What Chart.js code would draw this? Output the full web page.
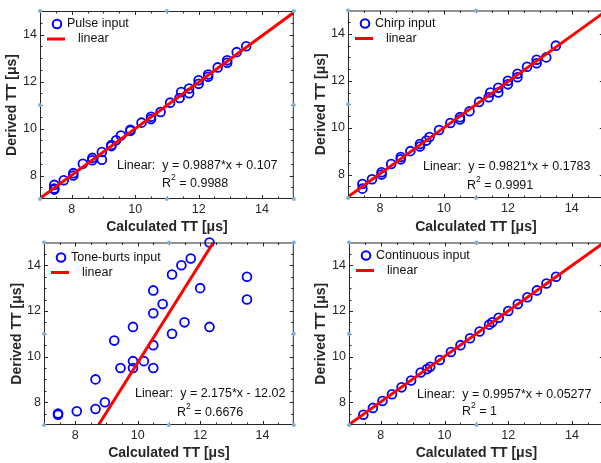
<!DOCTYPE html>
<html>
<head>
<meta charset="utf-8">
<style>
  html, body { margin: 0; padding: 0; background: #fff; }
  body { position: relative; width: 601px; height: 463px; overflow: hidden; }
  .panel { position: absolute; }
</style>
</head>
<body>
<div class="panel" style="left:0px;top:0px"><canvas id="chartPulse" width="300" height="240"></canvas></div>
<div class="panel" style="left:300px;top:0px"><canvas id="chartChirp" width="310" height="240"></canvas></div>
<div class="panel" style="left:0px;top:232px"><canvas id="chartTone" width="300" height="231"></canvas></div>
<div class="panel" style="left:300px;top:232px"><canvas id="chartCont" width="310" height="231"></canvas></div>

<script src="https://cdn.jsdelivr.net/npm/chart.js/dist/chart.umd.min.js"></script>
<script>
// axis setup shared by all four panels
const axisMin = 7, axisMax = 15;
const tickValues = [8, 10, 12, 14];
const minorStep = 0.5;

// pulse input
const pulseX = [7.45, 7.45, 7.45, 7.75, 8.05, 8.05, 8.35, 8.65, 8.65, 8.95, 8.95, 9.25, 9.25, 9.4, 9.55, 9.85, 9.85, 10.2, 10.5, 10.5, 10.8, 11.1, 11.4, 11.45, 11.7, 11.7, 12.0, 12.0, 12.3, 12.3, 12.6, 12.9, 12.9, 13.2, 13.5];
const pulseY = [7.6, 7.45, 7.4, 7.8, 8.1, 8.0, 8.5, 8.75, 8.65, 9.0, 8.67, 9.3, 9.25, 9.5, 9.7, 9.95, 9.9, 10.25, 10.5, 10.4, 10.7, 11.1, 11.3, 11.55, 11.7, 11.5, 12.05, 11.9, 12.3, 12.2, 12.6, 12.9, 12.8, 13.25, 13.5];
const pulseFitX = [7, 15];
const pulseFitY = [7.028, 14.938];

// chirp input
const chirpX = [7.45, 7.45, 7.75, 8.05, 8.05, 8.35, 8.65, 8.65, 8.95, 9.25, 9.25, 9.45, 9.55, 9.85, 10.2, 10.5, 10.5, 10.8, 11.1, 11.4, 11.45, 11.7, 11.7, 12.0, 12.0, 12.3, 12.3, 12.6, 12.9, 12.9, 13.2, 13.5];
const chirpY = [7.6, 7.4, 7.8, 8.1, 8.0, 8.45, 8.75, 8.65, 9.0, 9.3, 9.2, 9.45, 9.6, 9.9, 10.2, 10.45, 10.35, 10.7, 11.1, 11.3, 11.5, 11.7, 11.5, 12.0, 11.85, 12.3, 12.15, 12.6, 12.9, 12.75, 13.0, 13.5];
const chirpFitX = [7, 15];
const chirpFitY = [7.053, 14.910];

// tone-burst input
const toneX = [7.45, 7.45, 8.05, 8.65, 8.65, 8.95, 9.25, 9.45, 9.85, 9.85, 9.85, 10.2, 10.5, 10.5, 10.5, 10.5, 10.8, 11.1, 11.1, 11.4, 11.5, 11.7, 12.0, 12.3, 12.3, 13.5, 13.5];
const toneY = [7.5, 7.45, 7.6, 7.7, 9.0, 8.0, 10.7, 9.5, 11.3, 9.8, 9.5, 9.8, 12.9, 11.9, 10.5, 9.5, 12.3, 13.6, 11.0, 14.0, 11.5, 14.3, 13.0, 15.0, 11.3, 13.5, 12.5];
const toneFitX = [8.745, 12.423];
const toneFitY = [7, 15];

// continuous input
const contX = [7.45, 7.75, 8.05, 8.35, 8.65, 8.95, 9.25, 9.45, 9.55, 9.85, 10.2, 10.5, 10.8, 11.1, 11.4, 11.5, 11.7, 12.0, 12.3, 12.6, 12.9, 13.2, 13.5];
const contY = [7.45, 7.75, 8.05, 8.35, 8.65, 8.95, 9.3, 9.45, 9.55, 9.85, 10.2, 10.5, 10.8, 11.1, 11.4, 11.5, 11.7, 12.0, 12.3, 12.6, 12.9, 13.2, 13.5];
const contFitX = [7, 15];
const contFitY = [7.022, 14.988];

const fontFamily = '"Liberation Sans", Arial, Helvetica, sans-serif';
const textColor = '#262626';

// box, inside ticks, selection handles, legend and fit text (matlab look)
const matlabFrame = {
  id: 'matlabFrame',
  afterDatasetsDraw(chart, args, opts) {
    const { ctx, chartArea: a, scales } = chart;
    ctx.save();
    ctx.strokeStyle = textColor;
    ctx.lineWidth = 1;
    ctx.strokeRect(a.left + 0.5, a.top + 0.5, a.right - a.left - 1, a.bottom - a.top - 1);

    ctx.beginPath();
    for (let v = axisMin + minorStep; v < axisMax; v += minorStep) {
      const len = tickValues.includes(v) ? 4 : 2.5;
      const px = Math.round(scales.x.getPixelForValue(v)) + 0.5;
      const py = Math.round(scales.y.getPixelForValue(v)) + 0.5;
      ctx.moveTo(px, a.bottom); ctx.lineTo(px, a.bottom - len);
      ctx.moveTo(px, a.top); ctx.lineTo(px, a.top + len);
      ctx.moveTo(a.left, py); ctx.lineTo(a.left + len, py);
      ctx.moveTo(a.right, py); ctx.lineTo(a.right - len, py);
    }
    ctx.stroke();

    // little blue handles on corners and edge middles
    ctx.fillStyle = '#7fb0e0';
    const mx = (a.left + a.right) / 2, my = (a.top + a.bottom) / 2;
    [[a.left, a.top], [mx, a.top], [a.right, a.top], [a.left, my], [a.right, my],
     [a.left, a.bottom], [mx, a.bottom], [a.right, a.bottom]].forEach(([hx, hy]) => {
      ctx.beginPath();
      ctx.arc(hx, hy, 2, 0, Math.PI * 2);
      ctx.fill();
    });

    // legend
    const pts = chart.data.datasets[1], fit = chart.data.datasets[0];
    ctx.font = '12.5px ' + fontFamily;
    ctx.textBaseline = 'middle';
    ctx.textAlign = 'left';
    ctx.strokeStyle = pts.borderColor;
    ctx.lineWidth = 2;
    ctx.beginPath();
    ctx.arc(a.left + 17, a.top + opts.legTop, 4.3, 0, Math.PI * 2);
    ctx.stroke();
    ctx.fillStyle = '#111';
    ctx.fillText(opts.legend, a.left + 27, a.top + opts.legTop);
    ctx.strokeStyle = fit.borderColor;
    ctx.lineWidth = 3;
    ctx.beginPath();
    ctx.moveTo(a.left + 7, a.top + opts.legTop + 15);
    ctx.lineTo(a.left + 25, a.top + opts.legTop + 15);
    ctx.stroke();
    ctx.fillText('linear', a.left + 38, a.top + opts.legTop + 15);

    // fit equation and r squared
    ctx.font = '12.5px ' + fontFamily;
    ctx.fillText('Linear:  ' + opts.equation, opts.eqAt[0], opts.eqAt[1]);
    let x = opts.r2At[0];
    ctx.fillText('R', x, opts.r2At[1]);
    x += ctx.measureText('R').width;
    ctx.font = '8.5px ' + fontFamily;
    ctx.fillText('2', x, opts.r2At[1] - 6);
    x += ctx.measureText('2').width;
    ctx.font = '12.5px ' + fontFamily;
    ctx.fillText(' = ' + opts.r2, x, opts.r2At[1]);
    ctx.restore();
  }
};

function makePanel(canvasId, xs, ys, fitX, fitY, text, lay) {
  const canvas = document.getElementById(canvasId);
  const points = xs.map((x, i) => ({ x: x, y: ys[i] }));
  const line = fitX.map((x, i) => ({ x: x, y: fitY[i] }));
  return new Chart(canvas, {
    type: 'scatter',
    data: {
      datasets: [
        {
          type: 'line',
          data: line,
          borderColor: '#ff0000',
          borderWidth: 3,
          pointRadius: 0,
          fill: false,
          order: 0
        },
        {
          data: points,
          borderColor: '#0000ff',
          backgroundColor: 'rgba(0,0,0,0)',
          borderWidth: 1.8,
          pointRadius: 4.4,
          clip: false,
          order: 1
        }
      ]
    },
    options: {
      responsive: false,
      animation: false,
      events: [],
      layout: { padding: { left: 0, top: lay.top, right: canvas.width - lay.right, bottom: 0 } },
      plugins: {
        legend: { display: false },
        tooltip: { enabled: false },
        matlabFrame: text
      },
      scales: {
        x: {
          type: 'linear', min: axisMin, max: axisMax,
          afterBuildTicks: s => { s.ticks = tickValues.map(v => ({ value: v })); },
          afterFit: s => { s.height = canvas.height - lay.bottom; },
          grid: { display: false, drawTicks: false },
          border: { display: false },
          ticks: { color: textColor, font: { family: fontFamily, size: 12.5 }, padding: 3, maxRotation: 0, autoSkip: false },
          title: {
            display: true, text: 'Calculated TT [μs]', color: textColor,
            font: { family: fontFamily, size: 14, weight: 'bold' },
            padding: { top: 0, bottom: lay.xTitlePad }
          }
        },
        y: {
          type: 'linear', min: axisMin, max: axisMax,
          afterBuildTicks: s => { s.ticks = tickValues.map(v => ({ value: v })); },
          afterFit: s => { s.width = lay.left; },
          grid: { display: false, drawTicks: false },
          border: { display: false },
          ticks: { color: textColor, font: { family: fontFamily, size: 12.5 }, padding: 3, autoSkip: false },
          title: {
            display: true, text: 'Derived TT [μs]', color: textColor,
            font: { family: fontFamily, size: 14, weight: 'bold' },
            padding: { top: lay.yTitlePad, bottom: 0 }
          }
        }
      }
    },
    plugins: [matlabFrame]
  });
}

makePanel('chartPulse', pulseX, pulseY, pulseFitX, pulseFitY,
  { legend: 'Pulse input', legTop: 13, equation: 'y = 0.9887*x + 0.107', r2: '0.9988', eqAt: [117, 166], r2At: [162, 184] },
  { left: 40, right: 295, top: 11, bottom: 199, xTitlePad: 4, yTitlePad: 4 });

makePanel('chartChirp', chirpX, chirpY, chirpFitX, chirpFitY,
  { legend: 'Chirp input', legTop: 13, equation: 'y = 0.9821*x + 0.1783', r2: '0.9991', eqAt: [123, 167], r2At: [167, 186] },
  { left: 48, right: 305, top: 10, bottom: 198, xTitlePad: 4, yTitlePad: 13 });

makePanel('chartTone', toneX, toneY, toneFitX, toneFitY,
  { legend: 'Tone-burts input', legTop: 15, equation: 'y = 2.175*x - 12.02', r2: '0.6676', eqAt: [135, 162], r2At: [177, 181] },
  { left: 44, right: 296, top: 7, bottom: 193, xTitlePad: 1.5, yTitlePad: 9 });

makePanel('chartCont', contX, contY, contFitX, contFitY,
  { legend: 'Continuous input', legTop: 13, equation: 'y = 0.9957*x + 0.05277', r2: '1', eqAt: [117, 163], r2At: [162, 180] },
  { left: 49, right: 305, top: 5, bottom: 193, xTitlePad: 1.5, yTitlePad: 13 });
</script>
</body>
</html>
